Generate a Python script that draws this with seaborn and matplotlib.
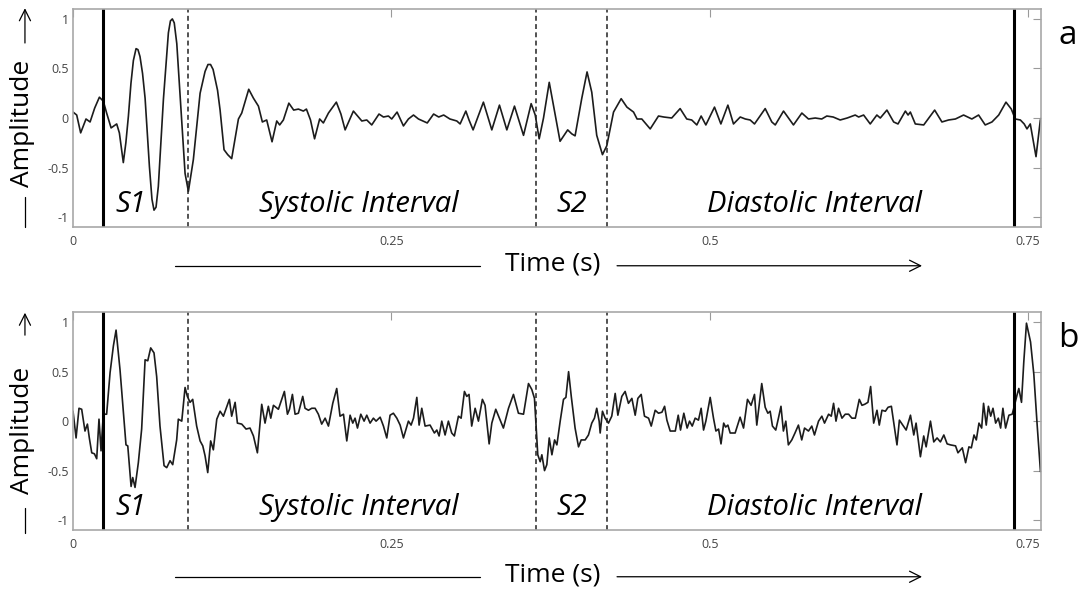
import matplotlib
matplotlib.use("Agg")
import matplotlib.pyplot as plt
import matplotlib.patches as mpatches
import seaborn as sns
import pandas as pd

# ---------------- data ----------------
time_a = [0.000, 0.0029, 0.0060, 0.0102, 0.0134, 0.0170, 0.0207, 0.0238, 0.0264, 0.0299,
          0.0343, 0.0364, 0.0395, 0.0415, 0.0435, 0.0455, 0.0474, 0.0495, 0.0510, 0.0526,
          0.0546, 0.0566, 0.0600, 0.0620, 0.0636, 0.0652, 0.0670, 0.0690, 0.0710, 0.0749,
          0.0765, 0.0780, 0.0795, 0.0815, 0.0841, 0.0880, 0.0906, 0.0945, 0.0998, 0.1037,
          0.1060, 0.1080, 0.1100, 0.1135, 0.1155, 0.1186, 0.1215, 0.1246, 0.1299, 0.1325,
          0.1380, 0.1417, 0.1456, 0.1487, 0.1521, 0.1563, 0.1600, 0.1623, 0.1652, 0.1695,
          0.1733, 0.1770, 0.1809, 0.1833, 0.1865, 0.1897, 0.1937, 0.1966, 0.2006, 0.2068,
          0.2104, 0.2137, 0.2202, 0.2268, 0.2307, 0.2346, 0.2403, 0.2438, 0.2477, 0.2503,
          0.2545, 0.2595, 0.2634, 0.2674, 0.2713, 0.2782, 0.2832, 0.2872, 0.2911, 0.2960,
          0.3014, 0.3040, 0.3085, 0.3110, 0.3142, 0.3223, 0.3289, 0.3349, 0.3407, 0.3467,
          0.3538, 0.3598, 0.3630, 0.3661, 0.3695, 0.3740, 0.3773, 0.3825, 0.3885, 0.3917,
          0.3943, 0.3995, 0.4037, 0.4074, 0.4113, 0.4158, 0.4192, 0.4245, 0.4305, 0.4350,
          0.4402, 0.4430, 0.4467, 0.4533, 0.4598, 0.4640, 0.4702, 0.4768, 0.4820, 0.4859,
          0.4899, 0.4933, 0.4970, 0.5038, 0.5088, 0.5143, 0.5187, 0.5240, 0.5280, 0.5318,
          0.5352, 0.5436, 0.5488, 0.5515, 0.5580, 0.5658, 0.5724, 0.5776, 0.5829, 0.5880,
          0.5920, 0.5970, 0.6025, 0.6080, 0.6143, 0.6170, 0.6209, 0.6261, 0.6313, 0.6340,
          0.6392, 0.6445, 0.6479, 0.6537, 0.6558, 0.6576, 0.6615, 0.6681, 0.6767, 0.6824,
          0.6876, 0.6930, 0.6994, 0.7059, 0.7112, 0.7164, 0.7217, 0.7270, 0.7327, 0.7369,
          0.7400, 0.7440, 0.7470, 0.7492, 0.7518, 0.7563, 0.7597, 0.7605]
amp_a = [0.06, 0.03, -0.15, -0.01, -0.04, 0.10, 0.21, 0.17, 0.05, -0.10,
         -0.06, -0.15, -0.45, -0.25, 0.02, 0.35, 0.58, 0.70, 0.69, 0.62,
         0.45, 0.20, -0.49, -0.82, -0.93, -0.90, -0.69, -0.25, 0.19, 0.86,
         0.98, 1.00, 0.96, 0.75, 0.22, -0.56, -0.74, -0.42, 0.25, 0.47,
         0.54, 0.54, 0.49, 0.28, 0.08, -0.32, -0.37, -0.41, -0.01, 0.05,
         0.29, 0.20, 0.12, -0.04, -0.02, -0.24, -0.03, -0.07, -0.02, 0.15,
         0.08, 0.09, 0.07, 0.09, -0.02, -0.21, -0.01, -0.05, 0.05, 0.16,
         0.04, -0.12, 0.07, -0.03, -0.02, -0.07, 0.04, 0.01, 0.02, -0.01,
         0.06, -0.08, -0.01, 0.03, -0.01, -0.05, 0.04, 0.01, 0.03, -0.01,
         -0.03, -0.06, 0.07, -0.02, -0.12, 0.16, -0.12, 0.13, -0.12, 0.12,
         -0.175, 0.145, 0.03, -0.21, 0.00, 0.36, 0.13, -0.235, -0.12, -0.16,
         -0.18, 0.195, 0.465, 0.26, -0.175, -0.37, -0.28, 0.06, 0.195, 0.11,
         0.06, -0.01, -0.01, -0.11, 0.02, 0.01, 0.00, 0.095, -0.01, -0.02,
         -0.07, 0.02, -0.07, 0.11, -0.06, 0.13, -0.06, 0.01, -0.01, -0.02,
         -0.06, 0.095, -0.04, -0.07, 0.07, -0.07, 0.05, -0.01, 0.00, -0.01,
         0.02, 0.01, -0.02, 0.00, 0.03, 0.01, 0.03, -0.06, 0.03, 0.00,
         0.08, -0.04, -0.06, 0.07, 0.03, 0.06, -0.06, -0.07, 0.08, -0.04,
         -0.02, -0.01, 0.03, -0.01, 0.03, -0.07, -0.04, 0.03, 0.16, 0.09,
         -0.01, -0.02, -0.06, -0.11, -0.06, -0.39, -0.02, 0.00]

time_b = [0.000, 0.0024, 0.0047, 0.0068, 0.0094, 0.0113, 0.0128, 0.0147, 0.0168, 0.0186,
          0.0204, 0.0220, 0.0238, 0.0264, 0.0291, 0.0317, 0.0338, 0.0369, 0.0416, 0.0430,
          0.0456, 0.0469, 0.0487, 0.0513, 0.0539, 0.0566, 0.0587, 0.0610, 0.0636, 0.0657,
          0.0683, 0.0715, 0.0736, 0.0762, 0.0783, 0.0814, 0.0827, 0.0854, 0.0880, 0.0898,
          0.0919, 0.0940, 0.0971, 0.0998, 0.1019, 0.1037, 0.1058, 0.1081, 0.1102, 0.1129,
          0.1155, 0.1181, 0.1228, 0.1246, 0.1273, 0.1291, 0.1325, 0.1359, 0.1390, 0.1417,
          0.1448, 0.1482, 0.1508, 0.1534, 0.1553, 0.1574, 0.1613, 0.1660, 0.1684, 0.1700,
          0.1723, 0.1744, 0.1770, 0.1804, 0.1822, 0.1849, 0.1875, 0.1901, 0.1927, 0.1953,
          0.1980, 0.2006, 0.2040, 0.2071, 0.2097, 0.2124, 0.2150, 0.2176, 0.2197, 0.2215,
          0.2234, 0.2260, 0.2286, 0.2307, 0.2333, 0.2359, 0.2380, 0.2412, 0.2438, 0.2464,
          0.2490, 0.2516, 0.2543, 0.2569, 0.2595, 0.2634, 0.2655, 0.2674, 0.2700, 0.2718,
          0.2739, 0.2765, 0.2804, 0.2838, 0.2857, 0.2875, 0.2896, 0.2922, 0.2948, 0.2974,
          0.2995, 0.3027, 0.3048, 0.3074, 0.3092, 0.3110, 0.3131, 0.3158, 0.3184, 0.3215,
          0.3236, 0.3268, 0.3289, 0.3320, 0.3380, 0.3420, 0.3459, 0.3498, 0.3538, 0.3577,
          0.3603, 0.3624, 0.3650, 0.3669, 0.3682, 0.3703, 0.3721, 0.3740, 0.3761, 0.3782,
          0.3800, 0.3826, 0.3852, 0.3871, 0.3892, 0.3913, 0.3943, 0.3970, 0.3991, 0.4022,
          0.4048, 0.4074, 0.4095, 0.4113, 0.4132, 0.4140, 0.4158, 0.4179, 0.4205, 0.4231,
          0.4258, 0.4279, 0.4310, 0.4336, 0.4362, 0.4389, 0.4415, 0.4436, 0.4462, 0.4488,
          0.4520, 0.4541, 0.4572, 0.4598, 0.4625, 0.4646, 0.4664, 0.4690, 0.4730, 0.4753,
          0.4771, 0.4797, 0.4823, 0.4842, 0.4863, 0.4886, 0.4912, 0.4933, 0.4952, 0.4970,
          0.5004, 0.5030, 0.5049, 0.5070, 0.5089, 0.5110, 0.5125, 0.5143, 0.5161, 0.5200,
          0.5239, 0.5266, 0.5297, 0.5325, 0.5352, 0.5370, 0.5409, 0.5436, 0.5457, 0.5475,
          0.5493, 0.5519, 0.5540, 0.5560, 0.5579, 0.5598, 0.5618, 0.5645, 0.5670, 0.5697,
          0.5723, 0.5745, 0.5776, 0.5802, 0.5823, 0.5855, 0.5881, 0.5902, 0.5934, 0.5955,
          0.5973, 0.5992, 0.6012, 0.6039, 0.6065, 0.6091, 0.6117, 0.6144, 0.6175, 0.6196,
          0.6217, 0.6243, 0.6264, 0.6288, 0.6314, 0.6332, 0.6353, 0.6380, 0.6401, 0.6427,
          0.6471, 0.6490, 0.6516, 0.6543, 0.6577, 0.6603, 0.6621, 0.6655, 0.6681, 0.6700,
          0.6734, 0.6760, 0.6786, 0.6812, 0.6839, 0.6865, 0.6891, 0.6931, 0.6950, 0.6984,
          0.7010, 0.7036, 0.7055, 0.7076, 0.7094, 0.7115, 0.7136, 0.7151, 0.7172, 0.7189,
          0.7207, 0.7225, 0.7246, 0.7267, 0.7285, 0.7303, 0.7324, 0.7350, 0.7376, 0.7394,
          0.7415, 0.7428, 0.7449, 0.7467, 0.7488, 0.7520, 0.7546, 0.7572, 0.7598]
amp_b = [0.10, -0.17, 0.13, 0.12, -0.10, -0.03, -0.17, -0.32, -0.33, -0.38,
         0.02, -0.30, 0.07, 0.07, 0.49, 0.76, 0.92, 0.52, -0.24, -0.25,
         -0.66, -0.57, -0.67, -0.42, -0.08, 0.62, 0.61, 0.74, 0.69, 0.45,
         -0.05, -0.45, -0.47, -0.40, -0.44, -0.19, 0.02, 0.00, 0.34, 0.25,
         0.19, 0.22, -0.05, -0.20, -0.25, -0.35, -0.52, -0.20, -0.29, 0.02,
         0.10, 0.05, 0.22, 0.05, 0.19, -0.02, -0.03, -0.08, -0.07, -0.15,
         -0.32, 0.17, -0.02, 0.15, 0.03, 0.16, 0.12, 0.30, 0.07, 0.12,
         0.27, 0.07, 0.08, 0.25, 0.13, 0.11, 0.13, 0.13, 0.07, -0.03,
         0.03, -0.05, 0.18, 0.33, 0.05, 0.07, -0.20, 0.06, -0.02, 0.03,
         -0.07, 0.07, 0.00, 0.06, -0.02, 0.03, 0.00, 0.04, -0.05, -0.17,
         0.06, 0.08, 0.03, -0.04, -0.17, 0.00, -0.04, 0.03, 0.24, -0.04,
         0.13, -0.05, -0.04, -0.12, -0.09, -0.15, 0.00, -0.14, 0.00, -0.12,
         -0.15, 0.05, 0.03, 0.30, 0.25, 0.27, -0.05, 0.13, 0.00, 0.22,
         0.16, -0.23, -0.02, 0.12, -0.07, 0.13, 0.27, 0.08, 0.07, 0.38,
         0.32, 0.23, -0.34, -0.41, -0.34, -0.50, -0.44, -0.17, -0.34, -0.19,
         -0.24, 0.00, 0.22, 0.24, 0.50, 0.25, -0.07, -0.26, -0.19, -0.19,
         -0.14, -0.02, 0.03, 0.13, 0.00, -0.12, 0.10, 0.03, -0.02, 0.05,
         0.28, 0.06, 0.25, 0.30, 0.18, 0.23, 0.06, 0.23, 0.27, 0.05,
         0.03, -0.05, 0.11, 0.08, 0.09, 0.15, 0.01, -0.10, -0.10, 0.06,
         -0.09, 0.08, -0.07, 0.00, -0.05, 0.03, 0.01, 0.13, -0.09, 0.00,
         0.24, 0.03, -0.10, -0.08, -0.23, -0.02, -0.06, -0.04, -0.12, -0.12,
         0.04, -0.07, 0.22, 0.16, 0.27, -0.04, 0.38, 0.14, 0.08, 0.10,
         -0.05, -0.09, 0.03, 0.15, -0.10, 0.00, -0.24, -0.19, -0.12, -0.04,
         -0.19, -0.07, -0.10, -0.05, -0.14, 0.00, 0.05, -0.02, 0.07, 0.05,
         0.18, 0.00, 0.13, 0.03, 0.07, 0.07, 0.03, 0.03, 0.22, 0.16,
         0.17, 0.19, 0.35, -0.02, 0.11, -0.04, 0.11, 0.10, 0.14, 0.15,
         -0.24, 0.01, -0.04, -0.09, 0.06, -0.14, -0.02, -0.36, -0.15, -0.26,
         0.00, -0.21, -0.17, -0.21, -0.14, -0.23, -0.24, -0.25, -0.32, -0.27,
         -0.42, -0.26, -0.27, -0.14, -0.19, -0.02, -0.07, 0.18, -0.04, 0.15,
         0.05, 0.13, -0.02, 0.03, -0.07, 0.13, -0.07, 0.06, 0.07, 0.16,
         0.27, 0.33, 0.19, 0.60, 0.99, 0.80, 0.47, -0.04, -0.51]

# boundaries (s)
solid_bounds = [0.0233, 0.7387]
dashed_bounds = [0.0900, 0.3637, 0.4195]
segment_names = ["S1", "Systolic Interval", "S2", "Diastolic Interval"]
segment_label_x = [0.0450, 0.2247, 0.3920, 0.5820]
xtick_vals = [0, 0.25, 0.5, 0.75]
xtick_labels = ["0", "0.25", "0.5", "0.75"]
ytick_vals = [-1, -0.5, 0, 0.5, 1]
ytick_labels = ["-1", "-0.5", "0", "0.5", "1"]
panel_letters = ["a", "b"]

# ---------------- style ----------------
sns.set_theme(style="white")
FONT = ["Open Sans", "DejaVu Sans"]
plt.rcParams["font.family"] = FONT

fig = plt.figure(figsize=(10.85, 5.89), dpi=100)
axes_pos = [[0.0673, 0.6146, 0.8919, 0.3701],
            [0.0673, 0.1002, 0.8919, 0.3696]]
signals = [(time_a, amp_a), (time_b, amp_b)]

for i, (pos, (tt, aa)) in enumerate(zip(axes_pos, signals)):
    ax = fig.add_axes(pos)
    df = pd.DataFrame({"t": tt, "amp": aa})
    sns.lineplot(data=df, x="t", y="amp", ax=ax, color="#1c1c1c",
                 linewidth=1.2, sort=False, estimator=None)
    ax.set_xlim(0, 0.76)
    ax.set_ylim(-1.1, 1.1)
    ax.set_xlabel("")
    ax.set_ylabel("")
    ax.set_xticks(xtick_vals)
    ax.set_xticklabels(xtick_labels)
    ax.set_yticks(ytick_vals)
    ax.set_yticklabels(ytick_labels)
    ax.tick_params(axis="both", direction="in", length=6, width=0.8,
                   color="#9a9a9a", labelcolor="#444444", labelsize=9,
                   top=True, right=True, labeltop=False, labelright=False)
    ax.tick_params(axis="x", pad=6)
    ax.tick_params(axis="y", pad=3)
    for sp in ax.spines.values():
        sp.set_color("#a8a8a8")
        sp.set_linewidth(1.2)
    for b in solid_bounds:
        ax.axvline(b, color="black", linewidth=2.2)
    for b in dashed_bounds:
        ax.axvline(b, color="#222222", linewidth=1.1, linestyle=(0, (3.2, 2.2)))
    for name, xc in zip(segment_names, segment_label_x):
        ax.text(xc, -0.87, name, ha="center", va="center",
                fontsize=21, style="italic", color="black", family=FONT)

# ---------------- figure-level annotations ----------------
time_label_y = [0.5518, 0.0238]
amp_label_y = [0.7900, 0.2690]
amp_arrow = [(0.927, 0.986), (0.431, 0.469)]
amp_bar = [(0.6655, 0.615), (0.137, 0.095)]
letter_y = [0.939, 0.426]

for k in range(2):
    fig.text(0.5097, time_label_y[k], "Time (s)", ha="center", va="center",
             fontsize=19, color="black")
    ly = time_label_y[k] - 0.003
    fig.add_artist(plt.Line2D([0.1613, 0.4424], [ly, ly], transform=fig.transFigure,
                              color="black", linewidth=0.9))
    fig.add_artist(mpatches.FancyArrowPatch(
        (0.5687, ly), (0.8498, ly), transform=fig.transFigure,
        arrowstyle="->,head_length=8,head_width=4", color="black",
        linewidth=0.9, mutation_scale=1, shrinkA=0, shrinkB=0))
    fig.text(0.0203, amp_label_y[k], "Amplitude", ha="center", va="center",
             rotation=90, fontsize=19, color="black")
    fig.add_artist(mpatches.FancyArrowPatch(
        (0.023, amp_arrow[k][0]), (0.023, amp_arrow[k][1]), transform=fig.transFigure,
        arrowstyle="->,head_length=8,head_width=4", color="black",
        linewidth=0.9, mutation_scale=1, shrinkA=0, shrinkB=0))
    fig.add_artist(plt.Line2D([0.023, 0.023], list(amp_bar[k]), transform=fig.transFigure,
                              color="black", linewidth=0.9))
    fig.text(0.9843, letter_y[k], panel_letters[k], ha="center", va="center",
             fontsize=24, color="black")

fig.savefig("out.png", dpi=100, facecolor="white")
